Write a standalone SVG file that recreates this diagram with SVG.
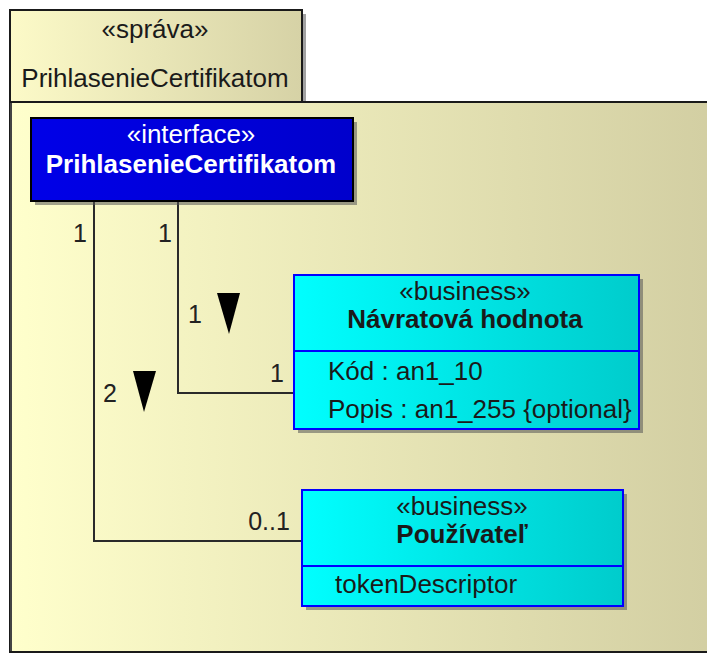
<svg xmlns="http://www.w3.org/2000/svg" width="707" height="654" viewBox="0 0 707 654">
<defs>
<linearGradient id="pkg" x1="0" y1="0" x2="1" y2="0">
<stop offset="0" stop-color="#FFFFCC"/>
<stop offset="1" stop-color="#D2CEA2"/>
</linearGradient>
<linearGradient id="tab" x1="0" y1="0" x2="1" y2="0">
<stop offset="0" stop-color="#FCFAC8"/>
<stop offset="1" stop-color="#D6D2A6"/>
</linearGradient>
<linearGradient id="cyan" x1="0" y1="0" x2="1" y2="0">
<stop offset="0" stop-color="#00FFFF"/>
<stop offset="1" stop-color="#00CCCC"/>
</linearGradient>
<linearGradient id="blue" x1="0" y1="0" x2="1" y2="0">
<stop offset="0" stop-color="#0000E8"/>
<stop offset="1" stop-color="#0000CC"/>
</linearGradient>
</defs>
<style>
text { font-family: "Liberation Sans", Arial, sans-serif; font-size: 26px; }
.dark { fill: #1a1a1a; }
.b { font-weight: bold; }
.mid { text-anchor: middle; }
.white { fill: #ffffff; }
.shadow { fill: #555555; opacity: 0.55; }
.cls { fill: url(#cyan); stroke: #0000FF; stroke-width: 2; }
.div { stroke: #0000FF; stroke-width: 2; }
.conn { fill: none; stroke: #2a2a2a; stroke-width: 2; }
.lbl { fill: #222222; font-size: 25px; }
</style>

<g id="package">
<rect x="14" y="14" width="292" height="88" class="shadow"/>
<rect x="10" y="10" width="292" height="92" fill="url(#tab)" stroke="#1a1a1a" stroke-width="2"/>
<rect x="10" y="102" width="710" height="550" fill="url(#pkg)" stroke="#1a1a1a" stroke-width="2"/>
<line x1="11" y1="103" x2="11" y2="651" stroke="#444444" stroke-width="2"/>
<text x="155" y="38" class="dark mid">«správa»</text>
<text x="155" y="87" class="dark mid">PrihlasenieCertifikatom</text>
</g>

<g id="connectors">
<polyline class="conn" points="94,201 94,541 302,541"/>
<polyline class="conn" points="178,201 178,393 294,393"/>
<text x="80" y="242" class="lbl mid">1</text>
<text x="165" y="242" class="lbl mid">1</text>
<text x="195" y="323" class="lbl mid">1</text>
<polygon points="217,293 240,293 229,334" fill="#000000"/>
<text x="277" y="382" class="lbl mid">1</text>
<text x="110" y="402" class="lbl mid">2</text>
<polygon points="133,371 156,371 144,412" fill="#000000"/>
<text x="269" y="530" class="lbl mid">0..1</text>
</g>

<g id="interface">
<rect x="35" y="122" width="322" height="83" class="shadow"/>
<rect x="31" y="118" width="322" height="83" fill="url(#blue)" stroke="#000000" stroke-width="2"/>
<text x="191" y="143" class="white mid">«interface»</text>
<text x="191" y="173" class="white mid b">PrihlasenieCertifikatom</text>
</g>

<g id="navratova">
<rect x="298" y="279" width="345" height="154" class="shadow"/>
<rect x="294" y="275" width="345" height="154" class="cls"/>
<line x1="294" y1="351" x2="639" y2="351" class="div"/>
<text x="465" y="300" class="dark mid">«business»</text>
<text x="465" y="328" class="dark mid b">Návratová hodnota</text>
<text x="328" y="380" class="dark">Kód : an1_10</text>
<text x="328" y="418" class="dark">Popis : an1_255 {optional}</text>
</g>

<g id="pouzivatel">
<rect x="306" y="494" width="321" height="116" class="shadow"/>
<rect x="302" y="490" width="321" height="116" class="cls"/>
<line x1="302" y1="566" x2="623" y2="566" class="div"/>
<text x="462" y="515" class="dark mid">«business»</text>
<text x="462" y="543" class="dark mid b">Používateľ</text>
<text x="335" y="593" class="dark">tokenDescriptor</text>
</g>
</svg>
